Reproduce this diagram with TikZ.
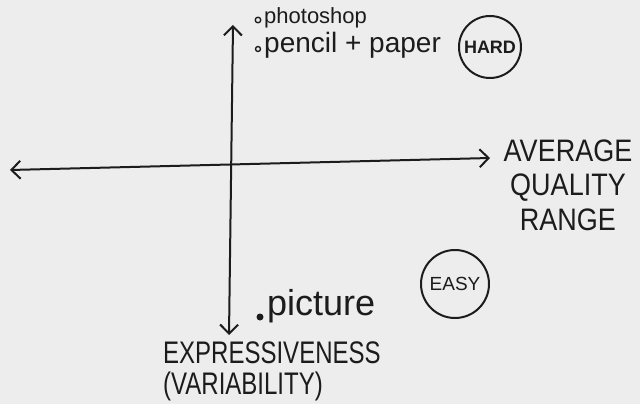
\documentclass[tikz,border=0pt]{standalone}
\usepackage{fontspec}
\setmainfont{Liberation Sans}
\usetikzlibrary{arrows.meta}
\definecolor{paper}{HTML}{EDEDED}
\definecolor{inkc}{HTML}{1C1C1C}
\newcommand{\fs}[1]{\fontsize{#1}{#1}\selectfont}
\begin{document}
\begin{tikzpicture}[x=1pt,y=-1pt,
  ink/.style={draw=inkc,line width=2pt,line cap=round,line join=round},
  barb/.style={ink,{Straight Barb[length=9pt,width=18pt,line width=2pt]}-{Straight Barb[length=9pt,width=18pt,line width=2pt]}},
  hand/.style={text=inkc,inner sep=0pt},
  ring/.style={ink,circle,minimum size=#1,inner sep=0pt}]
\fill[paper] (0,0) rectangle (640,404);
\useasboundingbox (0,0) rectangle (640,404);
% axes
\coordinate (top) at (233,25);
\coordinate (bot) at (229,335);
\coordinate (lft) at (10,170);
\coordinate (rgt) at (490,158);
\draw[barb] (bot) -- (top);
\draw[barb] (lft) -- (rgt);
% labels top
\node[hand,anchor=west,font=\fs{22}] (ps) at (264,18) {photoshop};
\draw[ink,line width=1.4pt] (258,20) circle (2.8);
\node[hand,anchor=west,font=\fs{28}] (pp) at (264,45) {pencil + paper};
\draw[ink,line width=1.4pt] (258,49) circle (2.5);
\node[ring=62pt] (hardc) at (490,47) {};
\node[hand,font=\fs{18}\bfseries] (hard) at (hardc) {HARD};
% right label
\node[hand,align=center,font=\fs{27},yscale=1.15] (aqr) at (568,185) {AVERAGE\\[3pt]QUALITY\\[3pt]RANGE};
% easy
\node[ring=68pt] (easyc) at (455,284) {};
\node[hand,font=\fs{19}] (easy) at (easyc) {EASY};
% picture
\fill[inkc] (260,317) circle (3.5);
\node[hand,anchor=west,font=\fs{36}] (pic) at (267,306) {picture};
% bottom label
\node[hand,anchor=north west,align=left,font=\fs{24},yscale=1.3] (expr) at (163,341) {EXPRESSIVENESS\\[0pt](VARIABILITY)};
\end{tikzpicture}
\end{document}
